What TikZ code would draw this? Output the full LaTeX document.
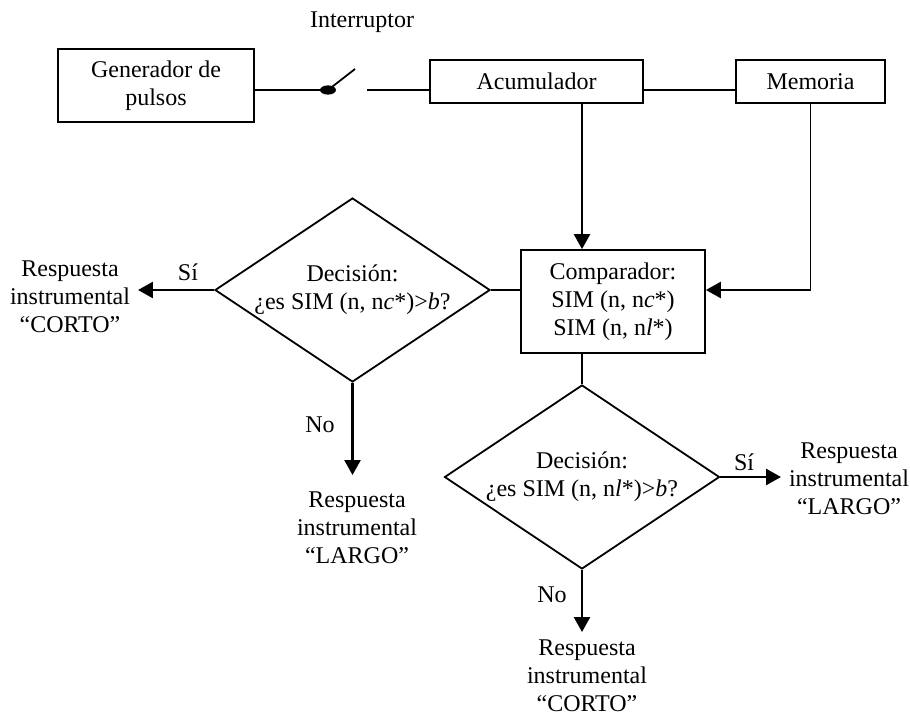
\documentclass[tikz,border=0pt]{standalone}
\usepackage{fontspec}
\setmainfont{Liberation Serif}
\usetikzlibrary{arrows.meta,shapes.geometric}

\begin{document}
\begin{tikzpicture}[x=0.5pt,y=-0.5pt,
  font=\fontsize{12}{14}\selectfont,
  caja/.style={draw,line width=0.9pt,align=center,inner sep=0pt},
  decision/.style={draw,diamond,aspect=1.5,line width=0.9pt,align=center,inner sep=0pt,
    minimum width=137.5pt,minimum height=92pt},
  resp/.style={align=center,inner sep=0pt,outer sep=4pt},
  linea/.style={line width=0.9pt},
  flecha/.style={line width=1.3pt,-{Triangle[length=7.5pt,width=8pt]}}]
\useasboundingbox (0,0) rectangle (910,717);
% bloques
\node[caja,minimum width=98pt,minimum height=36.5pt] (gen) at (156,85.5) {Generador de\\pulsos};
\node[caja,minimum width=106.5pt,minimum height=21.5pt] (acu) at (536.5,81.5) {Acumulador};
\node[caja,minimum width=74.5pt,minimum height=21.5pt] (mem) at (810.5,81.5) {Memoria};
\node[caja,minimum width=92pt,minimum height=51.5pt] (comp) at (613,301.5)
  {Comparador:\\SIM (n, n\textit{c}*)\\SIM (n, n\textit{l}*)};
\node[decision] (decc) at (352.5,290) {Decisión:\\¿es SIM (n, n\textit{c}*)>\textit{b}?};
\node[decision] (decl) at (582,477) {Decisión:\\¿es SIM (n, n\textit{l}*)>\textit{b}?};
% respuestas
\node[resp] (cortoA) at (70,297) {Respuesta\\instrumental\\“CORTO”};
\node[resp] (largoA) at (357,528) {Respuesta\\instrumental\\“LARGO”};
\node[resp] (largoB) at (849,479) {Respuesta\\instrumental\\“LARGO”};
\node[resp] (cortoB) at (587,676) {Respuesta\\instrumental\\“CORTO”};
% etiquetas
\node (intr) at (362,22) {Interruptor};
\node (siA) at (188,272) {Sí};
\node (siB) at (744,462) {Sí};
\node (noA) at (320,425) {No};
\node (noB) at (552,595) {No};
% interruptor
\coordinate (pivote) at (328,90);
\coordinate (palanca) at (355,69);
\coordinate (contacto) at (367,90);
\draw[linea] (gen.east |- pivote) -- (pivote) -- (palanca);
\fill (pivote) ellipse [x radius=4pt,y radius=2.3pt];
\draw[linea] (contacto) -- (acu.west |- contacto);
\draw[linea] (acu.east |- contacto) -- (mem.west |- contacto);
% conexiones
\draw[flecha] (acu.south -| decl.north) -- (comp.north -| decl.north);
\draw[linea] (mem.south) -- (mem.south |- decc.east) coordinate (codo);
\draw[flecha] (codo) -- (comp.east |- decc.east);
\draw[linea] (decc.east) -- (comp.west |- decc.east);
\draw[linea] (comp.south -| decl.north) -- (decl.north);
\draw[flecha] (decc.west) -- (decc.west -| cortoA.east);
\draw[flecha,shorten >=4.5pt] (decc.south) -- (decc.south |- largoA.north);
\draw[flecha] (decl.east) -- (decl.east -| largoB.west);
\draw[flecha] (decl.south) -- (decl.south |- cortoB.north);
\end{tikzpicture}
\end{document}
